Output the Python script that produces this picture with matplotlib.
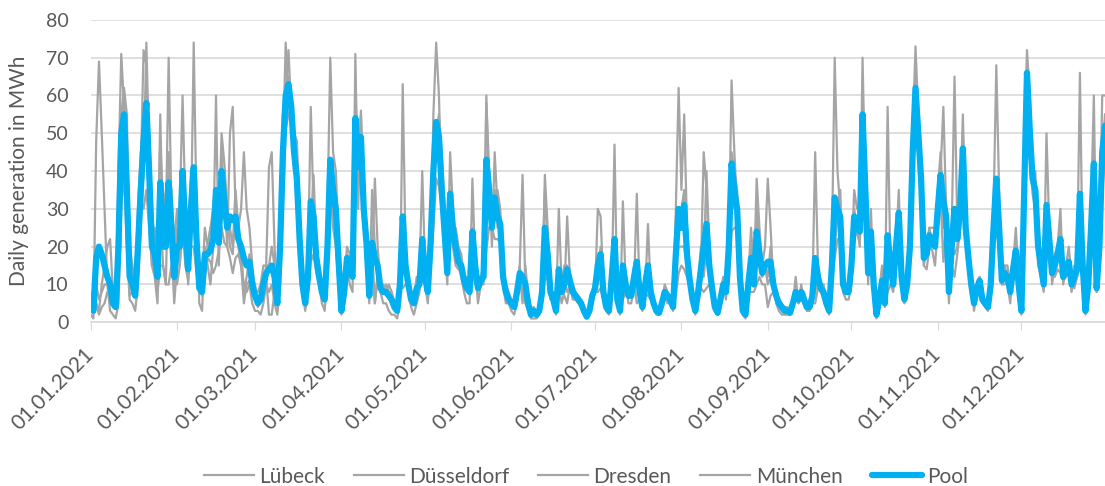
import numpy as np
import pandas as pd
import matplotlib
matplotlib.use('Agg')
import matplotlib.pyplot as plt
import matplotlib.dates as mdates

plt.rcParams['font.family'] = ['Lato', 'DejaVu Sans']

# daily generation in MWh, 2021
days = pd.date_range('2021-01-01', '2021-12-31', freq='D')

luebeck = [2,1,48,69,50,30,10,3,2,1, 5,30,40,20,6,5,3,10,25,40, 74,45,15,12,5,30,15,10,45,20,
           5,15,30,60,30,10,25,74,30,5, 3,20,15,10,20,60,15,40,35,20, 50,57,30,20,15,10,8,10,5,3,
           3,2,5,10,8,10,5,2,10,45, 74,60,55,45,30,15,8,3,8,25, 39,20,10,5,3,15,40,25,20,10,
           2,5,15,10,8,71,30,56,30,15, 5,35,20,15,8,5,5,3,2,2, 1,5,63,20,8,4,2,5,8,15,
           10,5,15,55,74,60,30,20,10,45, 30,20,15,12,8,5,5,38,15,5, 10,10,58,40,20,45,30,25,10,5,
           5,3,2,5,10,8,5,3,1,1, 1,2,5,39,25,8,5,2,10,5, 8,28,12,8,6,5,4,2,1,2,
           5,8,30,28,10,3,2,10,47,5, 2,32,10,5,5,10,34,8,3,8, 26,8,5,2,2,5,8,5,5,3,
           30,62,35,55,25,12,5,2,8,15, 45,35,15,8,3,2,5,10,6,20, 64,45,30,10,2,1,10,20,10,38,
           25,15,20,38,25,10,5,3,2,2, 2,2,5,12,5,10,5,3,3,8, 45,15,10,8,5,2,20,70,40,30,
           12,10,8,20,30,25,20,70,35,10, 30,10,2,5,10,4,57,15,10,20, 35,12,5,10,20,50,73,55,40,15,
           20,25,20,20,35,45,30,25,5,25, 65,25,30,55,25,15,10,3,8,10, 5,4,3,10,30,68,35,10,12,10,
           5,15,20,10,2,30,72,60,40,35, 25,15,10,50,25,10,15,20,30,10, 15,15,8,12,15,66,15,2,10,30,
           60,8,20,60,60]

duesseldorf = [8,4,5,3,10,15,20,22,8,6, 40,71,57,30,15,12,8,25,40,72, 68,40,20,25,15,55,20,25,70,30,
               12,25,15,35,25,20,40,40,20,10, 10,25,20,25,25,30,25,50,42,30, 25,20,35,25,30,45,30,25,15,8,
               8,10,15,15,15,20,15,8,30,50, 60,72,56,40,42,25,12,5,15,57, 30,15,12,8,6,20,30,35,35,18,
               3,10,20,18,15,60,45,55,35,25, 8,15,38,20,10,8,10,8,6,4, 3,10,25,15,10,6,5,10,12,40,
               15,8,25,40,50,55,45,30,15,35, 25,25,20,18,12,10,8,25,20,10, 12,15,60,35,25,30,35,30,15,8,
               6,5,4,10,15,39,10,5,2,3, 2,3,10,35,20,10,5,3,30,10, 15,15,12,10,8,6,5,3,2,3,
               8,10,12,20,8,4,3,15,20,8, 3,12,12,8,8,15,15,10,5,12, 15,10,6,3,3,5,10,8,6,4,
               20,25,30,35,20,12,6,3,10,20, 15,40,20,10,5,3,8,12,10,30, 45,40,35,15,3,2,12,25,12,30,
               20,15,15,12,20,12,8,5,4,3, 3,3,5,8,8,8,8,5,4,8, 10,12,10,10,6,3,15,25,30,35,
               10,8,10,15,35,30,30,60,40,15, 25,12,2,8,15,5,15,20,12,25, 30,15,6,12,25,45,65,50,40,20,
               20,25,25,25,30,40,57,30,10,20, 25,25,35,50,30,20,12,5,10,12, 6,5,4,12,25,30,25,12,15,15,
               8,15,25,12,3,40,70,50,40,40, 20,18,12,30,25,15,18,20,25,15, 15,20,12,15,15,30,18,3,12,25,
               45,10,25,45,55]

dresden = [6,3,10,6,8,10,10,8,6,5, 25,55,62,55,20,15,10,30,45,50, 55,50,30,20,20,48,30,35,40,35,
           20,30,20,40,30,15,35,30,25,12, 12,15,20,25,30,35,25,45,30,30, 20,18,30,25,20,8,12,18,12,10,
           5,6,10,15,41,45,20,5,25,55, 55,65,60,50,48,30,12,6,15,30, 25,20,15,10,8,30,70,45,40,20,
           4,8,18,15,12,50,50,45,30,25, 8,20,5,12,10,10,8,10,8,5, 4,15,15,15,12,8,6,12,10,20,
           12,10,30,40,50,45,35,25,15,30, 25,20,15,15,12,12,10,20,15,12, 12,12,35,40,30,35,25,28,12,10,
           8,6,5,8,15,5,15,7,3,4, 3,4,8,15,15,8,8,4,8,8, 10,8,10,8,8,7,6,4,2,4,
           8,10,10,15,8,5,4,12,12,6, 4,10,10,8,8,12,10,8,4,12, 12,8,5,4,3,6,8,8,7,5,
           15,20,20,20,15,10,8,4,8,12, 12,20,15,10,5,3,6,10,8,20, 35,30,30,12,4,3,10,15,10,18,
           15,12,15,10,12,10,8,6,5,4, 4,3,6,6,6,8,6,4,5,7, 8,12,8,8,5,4,15,20,28,25,
           10,8,8,15,25,25,25,50,35,15, 25,10,3,6,10,6,12,15,10,20, 28,12,7,10,20,45,60,50,38,18,
           18,22,20,20,30,38,25,30,8,20, 18,20,30,45,25,18,10,6,10,12, 7,6,5,10,25,30,20,12,15,12,
           10,15,18,10,4,35,62,50,38,35, 20,15,10,25,20,15,15,18,20,12, 14,16,10,12,14,25,15,4,10,25,
           35,10,20,40,50]

muenchen = [4,4,5,2,4,5,8,7,4,4, 10,44,61,35,7,8,7,15,30,30, 35,25,15,15,8,15,15,10,10,15,
            11,10,15,25,15,11,20,20,13,9, 7,12,17,16,13,15,19,25,21,20, 17,13,17,18,15,5,10,11,8,7,
            4,6,10,12,2,2,8,5,15,30, 51,55,57,45,32,18,8,6,10,16, 18,13,11,9,7,15,32,35,25,16,
            3,9,15,13,13,35,39,40,25,19, 7,14,5,13,8,9,9,7,8,5, 4,10,9,10,10,6,7,9,10,13,
            11,9,14,25,38,36,30,21,12,26, 20,15,14,15,12,9,9,13,10,9, 10,11,19,25,25,22,22,21,11,9,
            5,6,5,9,12,6,10,5,2,4, 2,3,9,11,12,6,6,3,8,9, 7,5,10,6,6,6,5,3,1,3,
            7,8,8,9,6,4,3,11,9,5, 3,6,8,7,7,11,5,6,4,8, 7,6,4,3,2,4,6,7,6,4,
            7,13,15,14,12,10,5,3,6,9, 8,9,10,8,3,2,5,8,8,10, 24,25,25,11,3,2,8,8,8,10,
            12,10,10,4,7,8,7,6,5,3, 3,2,4,6,5,6,5,4,4,5, 5,9,8,6,4,3,10,17,22,22,
            8,6,6,10,22,24,21,40,30,12, 16,8,1,5,9,5,8,10,8,15, 23,9,6,8,15,40,50,45,34,15,
            14,20,19,15,25,33,16,27,9,15, 12,18,25,34,20,15,8,6,8,10, 6,5,4,8,20,24,20,10,10,11,
            9,11,13,8,3,35,60,44,34,30, 15,12,8,19,18,12,12,14,13,11, 12,13,10,9,12,15,12,3,8,20,
            28,8,15,35,43]

pool = [5,3,17,20,18,15,12,10,5,4, 20,50,55,35,12,10,7,20,35,48, 58,40,20,18,12,37,20,20,37,25,
        12,20,20,40,25,14,30,41,22,9, 8,18,18,19,22,35,21,40,32,25, 28,27,28,22,20,17,15,16,10,7,
        5,6,10,13,14,15,12,5,20,45, 60,63,57,45,38,22,10,5,12,32, 28,17,12,8,6,20,43,35,30,16,
        3,8,17,14,12,54,41,49,30,21, 7,21,17,15,9,8,8,7,6,4, 3,10,28,15,10,6,5,9,10,22,
        12,8,21,40,53,49,35,24,13,34, 25,20,16,15,11,9,8,24,15,9, 11,12,43,35,25,33,28,26,12,8,
        6,5,4,8,13,12,10,5,2,3, 2,3,8,25,18,8,6,3,14,8, 10,14,11,8,7,6,5,3,1.5,3,
        7,9,15,18,8,4,3,12,22,6, 3,15,10,7,7,12,16,8,4,10, 15,8,5,3,2.5,5,8,7,6,4,
        18,30,25,31,18,11,6,3,8,14, 20,26,15,9,4,2.5,6,10,8,20, 42,35,30,12,3,2,10,17,10,24,
        18,13,15,16,16,10,7,5,4,3, 3,2.5,5,8,6,8,6,4,4,7, 17,12,9,8,5,3,15,33,30,28,
        10,8,8,15,28,26,24,55,35,13, 24,10,2,6,11,5,23,15,10,20, 29,12,6,10,20,45,62,50,38,17,
        18,23,21,20,30,39,32,28,8,20, 30,22,30,46,25,17,10,5,9,11, 6,5,4,10,25,38,25,11,13,12,
        8,14,19,10,3,35,66,51,38,35, 20,15,10,31,22,13,15,18,22,12, 14,16,10,12,14,34,15,3,10,25,
        42,9,20,45,52]

names = ['Lübeck', 'Düsseldorf', 'Dresden', 'München']

grey = '#A5A5A5'
blue = '#00B0F0'
txt = '#595959'

fig = plt.figure(figsize=(11.05, 4.86), dpi=100)
ax = fig.add_axes([0.082, 0.337, 0.918, 0.622])

for name, s in zip(names, [luebeck, duesseldorf, dresden, muenchen]):
    ax.plot(days, s, color=grey, lw=1.6, label=name, zorder=2)
ax.plot(days, pool, color=blue, lw=4.5, label='Pool', zorder=3,
        solid_joinstyle='round', solid_capstyle='round')

ax.set_ylim(0, 80)
ax.set_yticks(np.arange(0, 81, 10))
ax.set_xlim(days[0], days[-1])
ax.xaxis.set_major_locator(mdates.MonthLocator())
ax.xaxis.set_major_formatter(mdates.DateFormatter('%d.%m.%Y'))
ax.grid(axis='y', color='#D9D9D9', lw=1.2, zorder=0)
for sp in ['top', 'right', 'left']:
    ax.spines[sp].set_visible(False)
ax.spines['bottom'].set_color('#D9D9D9')
ax.spines['bottom'].set_linewidth(1.2)
ax.tick_params(axis='y', length=0, labelsize=14, labelcolor=txt, pad=16)
ax.tick_params(axis='x', length=6, color='#D9D9D9', labelsize=15, labelcolor=txt, pad=15)
for lab in ax.get_xticklabels():
    lab.set_rotation(45)
    lab.set_ha('right')
    lab.set_va('center')
    lab.set_rotation_mode('anchor')
ax.set_ylabel('Daily generation in MWh', fontsize=15, color=txt, labelpad=12)

fig.legend(loc='lower center', ncol=5, frameon=False, fontsize=15,
           labelcolor=txt, bbox_to_anchor=(0.53, -0.04), handlelength=2.4,
           columnspacing=1.4, handletextpad=0.25)

fig.savefig('out.png', dpi=100)
